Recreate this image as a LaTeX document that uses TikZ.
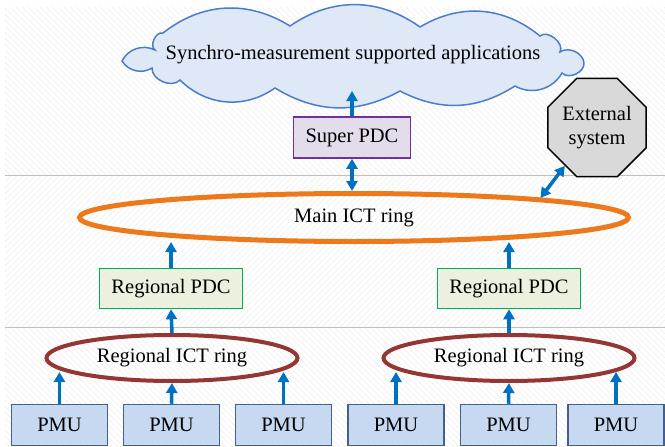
\documentclass[tikz,border=0pt]{standalone}
\usepackage{fontspec}
\setmainfont{Liberation Serif}
\usetikzlibrary{shapes.geometric,arrows.meta}
\definecolor{arrowblue}{HTML}{0070C0}
\definecolor{cloudfill}{HTML}{DEE8F7}
\definecolor{clouddraw}{HTML}{4A7EC8}
\definecolor{purpdraw}{HTML}{7030A0}
\definecolor{purpfill}{HTML}{E3DDEB}
\definecolor{greendraw}{HTML}{00B050}
\definecolor{greenfill}{HTML}{EBF1DE}
\definecolor{ringorange}{HTML}{EC7A1C}
\definecolor{ringred}{HTML}{943634}
\definecolor{pmudraw}{HTML}{41618A}
\definecolor{pmufill}{HTML}{C6D9F0}
\definecolor{octfill}{HTML}{D9D9D9}
\begin{document}
\begin{tikzpicture}[x=1pt,y=-1pt,
  every node/.style={font=\fontsize{20.5}{22}\selectfont, inner sep=0pt},
  flow/.style={arrowblue, line width=3.5pt, -{Triangle[width=11pt,length=10pt]}},
  dflow/.style={arrowblue, line width=3.5pt, {Triangle[width=11pt,length=10pt]}-{Triangle[width=11pt,length=10pt]}},
  pmubox/.style={draw=pmudraw, fill=pmufill, line width=1.5pt, minimum width=96pt, minimum height=41pt},
  pdcbox/.style={draw=greendraw, fill=greenfill, line width=1.5pt, minimum width=143pt, minimum height=40pt},
  regring/.style={ellipse, draw=ringred, line width=4pt, minimum width=251pt, minimum height=46pt},
  hatchline/.style={black!7, line width=0.6pt}]
\useasboundingbox (0,0) rectangle (665,447);
\fill[white] (0,0) rectangle (665,447);
% background hatching
\begin{scope}
\clip (5,7) rectangle (665,175);
\foreach \i in {-200,-194,...,700} {\draw[hatchline] (\i,7) -- ++(168,168);}
\end{scope}
\begin{scope}
\clip (5,175) rectangle (665,327);
\foreach \i in {0,6,...,900} {\draw[hatchline] (\i,175) -- ++(-152,152);}
\end{scope}
\begin{scope}
\clip (5,327) rectangle (665,447);
\foreach \i in {-200,-194,...,700} {\draw[hatchline] (\i,327) -- ++(120,120);}
\end{scope}
\draw[black!25, line width=0.8pt] (5,175) -- (665,175);
\draw[black!25, line width=0.8pt] (5,327) -- (665,327);
% cloud outline
\draw[draw=clouddraw, fill=cloudfill, line width=1.5pt]
  (122,61) to[bend left=45] (155,50)
  to[bend left=80] (163,33)
  to[bend left=35] (290,26)
  to[bend left=35] (420,27)
  to[bend left=35] (540,36)
  to[bend left=80] (560,52)
  to[bend left=60] (584,63)
  to[bend left=70] (562,73)
  to[bend left=45] (515,86)
  to[bend left=30] (400,91)
  to[bend left=30] (275,88)
  to[bend left=40] (180,80)
  to[bend left=70] (152,68)
  to[bend left=45] cycle;
\node (cloud) at (353,55) {Synchro-measurement supported applications};
\coordinate (cloudb) at (352,91);
% nodes
\node[draw=purpdraw, fill=purpfill, line width=1.5pt, minimum width=117pt, minimum height=41pt] (super) at (352,137.5) {Super PDC};
\node[regular polygon, regular polygon sides=8, draw=black, fill=octfill, line width=1.5pt, minimum size=95pt, align=center, font=\fontsize{20.5}{24}\selectfont] (ext) at (597,127.5) {External\\system};
\node[ellipse, draw=ringorange, line width=5pt, minimum width=549pt, minimum height=48pt] (main) at (354,217.5) {Main ICT ring};
\node[pdcbox] (pdcL) at (171,288.5) {Regional PDC};
\node[pdcbox] (pdcR) at (509,288.5) {Regional PDC};
\node[regring] (ringL) at (172,358) {Regional ICT ring};
\node[regring] (ringR) at (509,358) {Regional ICT ring};
\node[pmubox] (p1) at (59.5,425) {PMU};
\node[pmubox] (p2) at (171.5,425) {PMU};
\node[pmubox] (p3) at (283.5,425) {PMU};
\node[pmubox] (p4) at (396,425) {PMU};
\node[pmubox] (p5) at (508.5,425) {PMU};
\node[pmubox] (p6) at (616,425) {PMU};
% connectors
\draw[flow] (super.north) -- (cloudb);
\draw[dflow] (super.south) -- (super.south |- main.north);
\draw[dflow] (ext.-130) -- (main.6.3);
\draw[flow] (pdcL.north) -- (pdcL.north |- 0,242);
\draw[flow] (pdcR.north) -- (pdcR.north |- 0,242);
\draw[flow] (ringL.north) -- (pdcL.south);
\draw[flow] (ringR.north) -- (pdcR.south);
\draw[flow] (p1.north) -- (p1.north |- 0,372);
\draw[flow] (p2.north) -- (ringL.south);
\draw[flow] (p3.north) -- (p3.north |- 0,372);
\draw[flow] (p4.north) -- (p4.north |- 0,372);
\draw[flow] (p5.north) -- (ringR.south);
\draw[flow] (p6.north) -- (p6.north |- 0,372);
\end{tikzpicture}
\end{document}
